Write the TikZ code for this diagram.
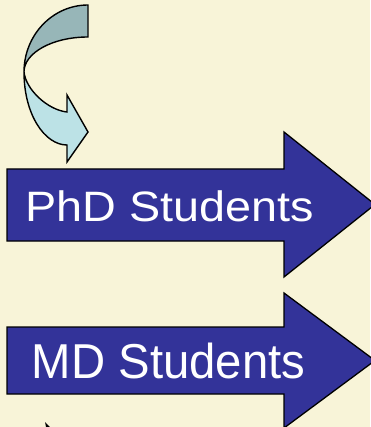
\documentclass[tikz,border=0pt]{standalone}
\usepackage{fontspec}
\setsansfont{Liberation Sans}
\usepackage{tikz}
\usetikzlibrary{calc}

\definecolor{paper}{RGB}{248,244,216}
\definecolor{arrowblue}{RGB}{51,51,153}
\definecolor{ribbonback}{RGB}{151,182,184}
\definecolor{ribbonfront}{RGB}{188,226,230}

\begin{document}
\begin{tikzpicture}[x=1pt,y=-1pt,line join=miter,
  big arrow/.style={fill=arrowblue,draw=black,line width=1.3pt},
  ribbon/.style={draw=black,line width=1.4pt},
  label node/.style={anchor=base,text=white,inner sep=0pt,font=\sffamily}]

  \useasboundingbox (0,0) rectangle (370,427);
  \fill[paper] (0,0) rectangle (370,427);

  % curved arrow, back then front
  \draw[ribbon,fill=ribbonback] (88,5) .. controls (52.7,5) and (24,35) .. (24,72)
    .. controls (24,52.7) and (52.7,37) .. (88,37) -- cycle;
  \draw[ribbon,fill=ribbonfront] (24,72) .. controls (24,115) and (45,145) .. (67,145)
    -- (67,162) -- (88,132) -- (67,95) -- (67,112)
    .. controls (48,110) and (26,90) .. (24,72) -- cycle;

  % the two block arrows
  \draw[big arrow] (7,169) -- (284,169) -- (284,132) -- (375,204.5) -- (284,277)
    -- (284,241) -- (7,241) -- cycle;
  \draw[big arrow] (7,327) -- (284,327) -- (284,293) -- (375,360.5) -- (284,428)
    -- (284,394) -- (7,394) -- cycle;

  \node[label node] (phd) at (170,221)
    {\scalebox{1.1}[1]{\fontsize{42.5}{48}\selectfont PhD Students}};
  \node[label node] (md) at (168.5,378.3)
    {\scalebox{0.965}[1]{\fontsize{49}{54}\selectfont MD Students}};

  % tip of a cut off arrow
  \fill[black] (45,422) -- (50,427) -- (46,427) -- cycle;
\end{tikzpicture}
\end{document}
